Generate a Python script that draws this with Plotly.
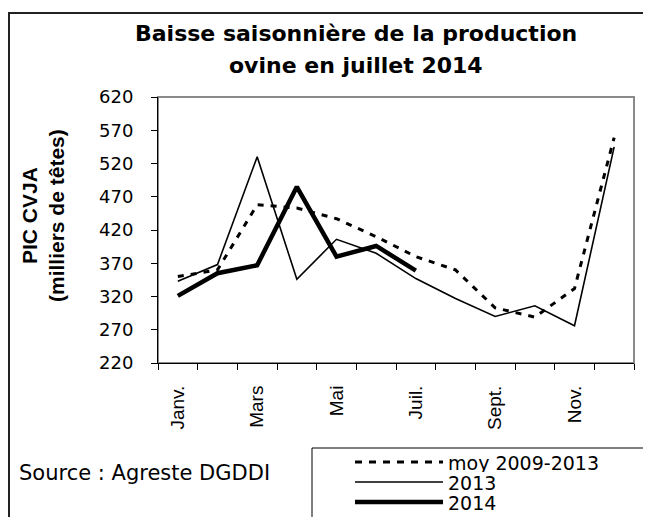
"""Baisse saisonnière de la production ovine - recreated with Plotly."""

import plotly.graph_objects as go

# ---- data -------------------------------------------------------------
MONTHS = ["Janv.", "Févr.", "Mars", "Avr.", "Mai", "Juin",
          "Juil.", "Août", "Sept.", "Oct.", "Nov.", "Déc."]
MOY_2009_2013 = [350, 360, 458, 453, 437, 410, 380, 360, 303, 289, 332, 559]
PROD_2013 = [343, 368, 530, 346, 406, 385, 347, 317, 290, 306, 276, 545]
PROD_2014 = [321, 355, 367, 485, 380, 396, 359]

Y_MIN, Y_MAX, Y_STEP = 220, 620, 50

# ---- geometry (pixels in the 651x517 window) ---------------------------
# the page body has an 8px margin, so the figure is drawn 8px smaller
BODY = 8
W, H = 651 - BODY, 517 - BODY
PLOT_L, PLOT_R, PLOT_T, PLOT_B = 158, 634, 97, 363

HFONT = "DejaVu Sans"
VFONT = "Liberation Sans, Arial"


def px_x(x):
    return (x - PLOT_L) / (PLOT_R - PLOT_L)


def px_y(y):
    return (PLOT_B - y) / (PLOT_B - PLOT_T)


idx = list(range(len(MONTHS)))

fig = go.Figure()
fig.add_trace(go.Scatter(x=idx, y=MOY_2009_2013, mode="lines", name="moy 2009-2013",
                         line=dict(color="black", width=3, dash="6px,7px")))
fig.add_trace(go.Scatter(x=idx, y=PROD_2013, mode="lines", name="2013",
                         line=dict(color="black", width=1.6)))
fig.add_trace(go.Scatter(x=idx[:len(PROD_2014)], y=PROD_2014, mode="lines", name="2014",
                         line=dict(color="black", width=4.5)))

fig.update_layout(
    width=W, height=H,
    margin=dict(l=PLOT_L - BODY, r=651 - PLOT_R, t=PLOT_T - BODY, b=517 - PLOT_B),
    paper_bgcolor="white", plot_bgcolor="white",
    showlegend=False,
    font=dict(family=HFONT, color="black"),
)

fig.update_xaxes(
    range=[-0.5, len(MONTHS) - 0.5],
    tickmode="array", tickvals=idx[::2], ticktext=MONTHS[::2],
    tickangle=-90, ticks="", ticklabelstandoff=14,
    tickfont=dict(family=VFONT, size=19, color="black"),
    minor=dict(tickmode="linear", tick0=-0.5, dtick=1, ticks="outside",
               ticklen=6, tickcolor="black", showgrid=False),
    showgrid=False, zeroline=False,
    showline=True, linecolor="black", linewidth=1,
)
fig.update_yaxes(
    range=[Y_MIN, Y_MAX], tick0=Y_MIN, dtick=Y_STEP,
    ticks="outside", ticklen=6, tickcolor="black", ticklabelstandoff=14,
    tickfont=dict(family=HFONT, size=18, color="black"),
    showgrid=False, zeroline=False,
    showline=True, linecolor="black", linewidth=1,
)

# plot-area border and outer frame
fig.add_shape(type="rect", xref="paper", yref="paper", x0=0, x1=1, y0=0, y1=1,
              line=dict(color="#8a8a8a", width=2), layer="below")
fig.add_shape(type="rect", xref="paper", yref="paper",
              x0=px_x(9), x1=px_x(665), y0=px_y(535), y1=px_y(13),
              line=dict(color="#222", width=2))

# title
fig.add_annotation(text="<b>Baisse saisonnière de la production</b>", xref="paper", yref="paper",
                   x=px_x(356), y=px_y(33), showarrow=False, xanchor="center", yanchor="middle",
                   font=dict(family=HFONT, size=22, color="black"))
fig.add_annotation(text="<b>ovine en juillet 2014</b>", xref="paper", yref="paper",
                   x=px_x(356), y=px_y(65), showarrow=False, xanchor="center", yanchor="middle",
                   font=dict(family=HFONT, size=22, color="black"))

# y axis title
fig.add_annotation(text="<b>PIC CVJA</b><br><b>(milliers de têtes)</b>", xref="paper", yref="paper",
                   x=px_x(43), y=px_y(216), showarrow=False, textangle=-90,
                   xanchor="center", yanchor="middle",
                   font=dict(family=VFONT, size=21, color="black"))

# source
fig.add_annotation(text="Source : Agreste DGDDI", xref="paper", yref="paper",
                   x=px_x(17), y=px_y(473), showarrow=False, xanchor="left", yanchor="middle",
                   font=dict(family=HFONT, size=21, color="black"))

# legend box drawn by hand (long line samples)
fig.add_shape(type="rect", xref="paper", yref="paper",
              x0=px_x(312), x1=px_x(645), y0=px_y(535), y1=px_y(448),
              line=dict(color="black", width=1))
legend_rows = [(462, "moy 2009-2013", 3, "7px,7px"),
               (482, "2013", 1.6, "solid"),
               (502, "2014", 4.5, "solid")]
for y, label, width, dash in legend_rows:
    fig.add_shape(type="line", xref="paper", yref="paper",
                  x0=px_x(355), x1=px_x(443), y0=px_y(y), y1=px_y(y),
                  line=dict(color="black", width=width, dash=dash))
    fig.add_annotation(text=label, xref="paper", yref="paper",
                       x=px_x(446), y=px_y(y), showarrow=False, xanchor="left", yanchor="middle",
                       height=19, font=dict(family=HFONT, size=19, color="black"))

fig.write_html("out.html")
